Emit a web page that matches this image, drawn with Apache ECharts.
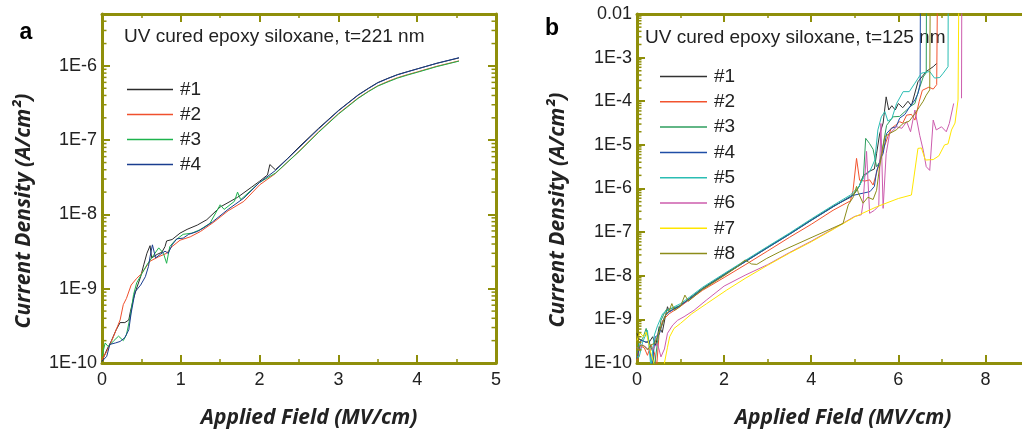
<!DOCTYPE html>
<html><head><meta charset="utf-8">
<script src="https://cdn.jsdelivr.net/npm/echarts@6.0.0/dist/echarts.min.js"></script>
<style>html,body{margin:0;padding:0;background:#fff}#c{width:1022px;height:433px}</style>
</head><body><div id="c"></div>
<script>
// ---------- DATA (Applied Field MV/cm, Current Density A/cm2) ----------
const namesA = ['#1','#2','#3','#4'];
const namesB = ['#1','#2','#3','#4','#5','#6','#7','#8'];
const xTicksA = [0,1,2,3,4,5];
const xTicksB = [0,2,4,6,8];

const a1 = [[0,1.05e-10],[0.06,1.5e-10],[0.12,2.0e-10],[0.18,2.8e-10],[0.23,3.5e-10],[0.29,3.5e-10],[0.34,3.8e-10],[0.36,4.9e-10],[0.40,7.4e-10],[0.44,1.02e-9],[0.49,1.45e-9],[0.53,2.1e-9],[0.57,3.0e-9],[0.61,3.8e-9],[0.63,2.6e-9],[0.70,2.9e-9],[0.76,3.1e-9],[0.80,3.7e-9],[0.82,4.4e-9],[0.89,4.6e-9],[0.99,5.6e-9],[1.08,6.3e-9],[1.21,7.2e-9],[1.33,8.5e-9],[1.5,1.26e-8],[1.72,1.7e-8],[1.9,2.34e-8],[2.0,2.8e-8],[2.1,3.4e-8],[2.13,4.7e-8],[2.2,4.0e-8],[2.35,5.6e-8],[2.5,8.1e-8],[2.75,1.45e-7],[3.0,2.51e-7],[3.25,4.07e-7],[3.38,5.0e-7],[3.5,5.97e-7],[3.63,6.82e-7],[3.75,7.64e-7],[3.88,8.39e-7],[4.0,9.12e-7],[4.25,1.086e-6],[4.53,1.28e-6]];
const a2 = [[0,1.1e-10],[0.06,1.43e-10],[0.12,1.95e-10],[0.18,2.8e-10],[0.23,3.8e-10],[0.27,6.1e-10],[0.31,7.4e-10],[0.37,1.12e-9],[0.44,1.38e-9],[0.49,1.55e-9],[0.55,1.9e-9],[0.61,2.35e-9],[0.72,2.7e-9],[0.82,3.0e-9],[0.89,3.7e-9],[0.99,4.5e-9],[1.12,5.0e-9],[1.25,5.9e-9],[1.42,7.9e-9],[1.6,1.12e-8],[1.8,1.5e-8],[2.0,2.5e-8],[2.2,3.55e-8],[2.5,7.1e-8],[2.75,1.3e-7],[3.0,2.28e-7],[3.25,3.7e-7],[3.38,4.55e-7],[3.5,5.4e-7],[3.63,6.2e-7],[3.75,6.95e-7],[3.88,7.65e-7],[4.0,8.3e-7],[4.25,9.9e-7],[4.53,1.17e-6]];
const a3 = [[0,1.23e-10],[0.04,1.86e-10],[0.08,1.66e-10],[0.15,2.0e-10],[0.21,2.3e-10],[0.27,2.0e-10],[0.31,2.4e-10],[0.36,4.3e-10],[0.40,8.3e-10],[0.44,1.2e-9],[0.51,1.62e-9],[0.57,2.1e-9],[0.63,2.6e-9],[0.72,3.55e-9],[0.78,3.0e-9],[0.82,2.2e-9],[0.86,3.7e-9],[0.93,4.5e-9],[1.03,5.4e-9],[1.14,5.6e-9],[1.24,6.2e-9],[1.37,7.6e-9],[1.5,1.35e-8],[1.55,1.17e-8],[1.68,1.5e-8],[1.72,2.0e-8],[1.76,1.58e-8],[2.0,2.7e-8],[2.2,3.6e-8],[2.5,7.0e-8],[2.75,1.28e-7],[3.0,2.24e-7],[3.25,3.65e-7],[3.38,4.5e-7],[3.5,5.35e-7],[3.63,6.1e-7],[3.75,6.85e-7],[3.88,7.55e-7],[4.0,8.2e-7],[4.25,9.8e-7],[4.53,1.16e-6]];
const a4 = [[0,1.05e-10],[0.06,1.23e-10],[0.10,1.78e-10],[0.17,1.86e-10],[0.23,1.95e-10],[0.29,2.2e-10],[0.34,2.8e-10],[0.37,4.7e-10],[0.42,9.1e-10],[0.49,1.12e-9],[0.55,1.45e-9],[0.59,2.0e-9],[0.61,2.7e-9],[0.64,3.9e-9],[0.68,2.6e-9],[0.74,2.9e-9],[0.80,3.2e-9],[0.84,3.0e-9],[0.89,3.9e-9],[0.95,4.7e-9],[1.03,4.8e-9],[1.10,5.4e-9],[1.21,5.9e-9],[1.29,6.6e-9],[1.40,7.9e-9],[1.6,1.17e-8],[1.8,1.66e-8],[2.0,2.7e-8],[2.2,3.9e-8],[2.5,7.9e-8],[2.75,1.42e-7],[3.0,2.48e-7],[3.25,4.03e-7],[3.38,4.95e-7],[3.5,5.92e-7],[3.63,6.78e-7],[3.75,7.6e-7],[3.88,8.35e-7],[4.0,9.1e-7],[4.25,1.085e-6],[4.53,1.29e-6]];

const b1 = [[0,4.8e-10],[0.05,3.5e-10],[0.13,3.3e-10],[0.2,3.0e-10],[0.28,3.0e-10],[0.36,4.0e-10],[0.43,2.5e-10],[0.51,6.8e-10],[0.58,5.0e-10],[0.66,1.3e-9],[0.70,1.95e-9],[0.74,1.5e-9],[0.82,1.7e-9],[0.97,2.0e-9],[1.2,3.0e-9],[1.5,5.1e-9],[2.0,1.07e-8],[2.5,2.2e-8],[3.0,4.5e-8],[3.5,9.1e-8],[4.0,1.9e-7],[4.5,3.9e-7],[4.9,6.3e-7],[5.0,7.9e-7],[5.1,1.12e-6],[5.2,2.0e-6],[5.34,2.5e-6],[5.45,2.8e-6],[5.5,6.3e-6],[5.57,1.78e-5],[5.65,3.16e-5],[5.72,1.26e-4],[5.78,6.3e-5],[5.85,7.9e-5],[5.93,6.3e-5],[6.0,8.9e-5],[6.1,7.1e-5],[6.22,1.0e-4],[6.3,7.9e-5],[6.45,2.8e-4],[6.64,4.8e-4],[6.80,6.2e-4],[6.88,7.4e-4]];
const b2 = [[0,1.15e-10],[0.07,2.5e-10],[0.17,2.2e-10],[0.24,1.5e-10],[0.32,2.6e-10],[0.40,1.7e-10],[0.45,8e-11],[0.51,5.1e-10],[0.59,9.5e-10],[0.74,1.35e-9],[0.97,1.9e-9],[1.2,2.8e-9],[1.5,4.6e-9],[2.0,9.1e-9],[2.5,1.82e-8],[3.0,3.7e-8],[3.5,7.6e-8],[4.0,1.51e-7],[4.5,3.16e-7],[4.9,5.2e-7],[4.96,9.1e-7],[5.04,4.9e-6],[5.11,1.55e-6],[5.23,1.48e-6],[5.34,1.58e-6],[5.42,1.2e-6],[5.53,2.9e-6],[5.65,7.6e-6],[5.76,1.55e-5],[5.84,2.4e-5],[5.93,2.8e-5],[6.03,3.4e-5],[6.1,3.16e-5],[6.19,4.8e-5],[6.3,5.0e-5],[6.38,3.7e-5],[6.48,1.0e-4],[6.55,1.78e-4],[6.7,2.1e-4],[6.8,1.9e-4],[6.88,2.4e-4],[6.91,1]];
const b3 = [[0,1.8e-10],[0.05,3.0e-10],[0.13,3.6e-10],[0.21,6.2e-10],[0.28,3.0e-10],[0.36,1.8e-10],[0.40,8e-11],[0.47,3.0e-10],[0.55,9.5e-10],[0.66,1.62e-9],[0.82,1.8e-9],[1.0,2.1e-9],[1.2,3.0e-9],[1.5,5.0e-9],[2.0,1.05e-8],[2.5,2.14e-8],[3.0,4.4e-8],[3.5,8.9e-8],[4.0,1.86e-7],[4.5,3.8e-7],[4.9,6.6e-7],[5.0,7.9e-7],[5.1,1.12e-6],[5.2,2.0e-6],[5.25,1.41e-5],[5.34,1.07e-5],[5.42,7.9e-6],[5.50,3.16e-6],[5.57,4.0e-6],[5.65,1.0e-5],[5.73,2.8e-5],[5.88,4.4e-5],[6.03,4.5e-5],[6.19,6.3e-5],[6.3,7.9e-5],[6.38,8.9e-5],[6.45,1.58e-4],[6.57,3.6e-4],[6.64,4.5e-4],[6.65,1]];
const b4 = [[0,1.26e-10],[0.09,3.3e-10],[0.21,3.0e-10],[0.28,3.3e-10],[0.34,8e-11],[0.42,4.0e-10],[0.51,4.5e-10],[0.63,1.15e-9],[0.74,1.48e-9],[0.97,2.0e-9],[1.2,2.9e-9],[1.5,4.9e-9],[2.0,1.04e-8],[2.5,2.14e-8],[3.0,4.4e-8],[3.5,8.9e-8],[4.0,1.86e-7],[4.5,3.8e-7],[4.9,6.5e-7],[5.0,7.1e-7],[5.35,8.5e-7],[5.45,1.12e-6],[5.5,2.5e-6],[5.6,5.0e-6],[5.65,6.3e-6],[5.73,1.82e-5],[5.84,2.4e-5],[5.95,2.6e-5],[6.03,4.1e-5],[6.15,5.0e-5],[6.26,7.4e-5],[6.38,1.07e-4],[6.45,1.5e-4],[6.50,2.5e-4],[6.51,1]];
const b5 = [[0,1.38e-10],[0.05,1.38e-10],[0.13,3.0e-10],[0.24,5.6e-10],[0.32,8e-11],[0.40,4.4e-10],[0.47,7.1e-10],[0.59,1.35e-9],[0.74,1.7e-9],[1.0,2.3e-9],[1.2,3.2e-9],[1.5,5.4e-9],[2.0,1.12e-8],[2.5,2.3e-8],[3.0,4.7e-8],[3.5,9.5e-8],[4.0,2.0e-7],[4.5,4.1e-7],[4.9,7.1e-7],[5.0,8.9e-7],[5.1,1.12e-6],[5.23,2.0e-6],[5.34,2.4e-6],[5.46,4.5e-6],[5.53,2.2e-5],[5.61,4.4e-5],[5.69,5.8e-5],[5.76,3.5e-5],[5.85,4.0e-5],[5.96,8.9e-5],[6.11,1.66e-4],[6.25,1.66e-4],[6.38,2.6e-4],[6.53,4.4e-4],[6.72,4.8e-4],[6.83,3.4e-4],[6.95,3.5e-4],[7.03,4.4e-4],[7.14,6.2e-4],[7.15,1]];
const b6 = [[0,2.3e-10],[0.05,1.95e-10],[0.13,2.6e-10],[0.21,2.3e-10],[0.28,1.95e-10],[0.36,2.1e-10],[0.47,2.8e-10],[0.55,1.38e-10],[0.63,2.1e-10],[0.70,4.8e-10],[0.82,7.4e-10],[0.93,9.5e-10],[1.08,1.15e-9],[1.31,1.62e-9],[1.6,2.8e-9],[2.0,5.8e-9],[2.5,1.05e-8],[3.0,1.8e-8],[3.5,3.4e-8],[4.0,6.2e-8],[4.5,1.18e-7],[5.0,2.3e-7],[5.15,2.5e-7],[5.19,4.6e-7],[5.27,7.1e-6],[5.34,2.7e-7],[5.45,3.16e-7],[5.55,4.0e-7],[5.60,3.1e-5],[5.65,3.5e-7],[5.72,6.3e-6],[5.80,1.82e-5],[5.96,2.6e-5],[6.08,2.4e-5],[6.19,3.4e-5],[6.28,2.0e-5],[6.38,6.3e-5],[6.49,1.66e-5],[6.57,7.6e-6],[6.64,3.16e-6],[6.72,2.6e-6],[6.80,3.7e-5],[6.87,2.2e-5],[6.99,2.6e-5],[7.10,2.0e-5],[7.17,3.1e-5],[7.27,8.9e-5],[7.36,'-'],[7.45,1.17e-4],[7.46,1]];
const b7 = [[0,3.3e-10],[0.07,4.9e-10],[0.15,4.0e-10],[0.21,5.1e-10],[0.27,2.8e-10],[0.32,1.66e-10],[0.40,9e-11],[0.5,5e-11],[0.62,5e-11],[0.63,1.0e-10],[0.70,2.3e-10],[0.75,4.0e-10],[0.85,6.2e-10],[1.0,8.1e-10],[1.26,1.35e-9],[1.6,2.3e-9],[2.06,4.7e-9],[2.5,8.9e-9],[3.0,1.74e-8],[3.5,3.3e-8],[4.0,6.0e-8],[4.5,1.15e-7],[5.0,2.24e-7],[5.5,3.8e-7],[6.0,5.9e-7],[6.30,7.1e-7],[6.33,7.4e-7],[6.45,8.3e-6],[6.53,8.5e-6],[6.62,4.5e-6],[6.80,4.6e-6],[6.93,5.6e-6],[7.06,1.0e-5],[7.14,1.05e-5],[7.22,2.2e-5],[7.30,3.16e-5],[7.37,1.07e-4],[7.40,1]];
const b8 = [[0,2.0e-10],[0.09,2.6e-10],[0.17,2.4e-10],[0.24,2.0e-10],[0.32,2.6e-10],[0.40,2.8e-10],[0.47,4.0e-10],[0.55,6.5e-10],[0.66,1.3e-9],[0.74,1.6e-9],[0.80,2.3e-9],[0.86,1.6e-9],[1.0,2.0e-9],[1.10,3.6e-9],[1.18,2.6e-9],[1.5,4.8e-9],[2.0,1.0e-8],[2.3,1.6e-8],[2.48,2.3e-8],[2.63,1.86e-8],[2.75,1.82e-8],[2.98,2.5e-8],[3.28,3.55e-8],[4.04,7.8e-8],[4.73,1.58e-7],[4.85,4.2e-7],[4.97,6.5e-7],[5.04,1.12e-6],[5.08,8.0e-7],[5.19,4.6e-7],[5.3,6.3e-7],[5.42,5.6e-7],[5.50,9.1e-7],[5.57,3.16e-6],[5.69,1.55e-5],[5.80,1.82e-5],[5.95,2.2e-5],[6.11,3.1e-5],[6.25,3.5e-5],[6.38,5.2e-5],[6.49,7.6e-5],[6.57,1.0e-4],[6.64,1.38e-4],[6.72,1.82e-4],[6.74,1]];

const seriesA = [a1,a2,a3,a4];
const seriesB = [b1,b2,b3,b4,b5,b6,b7,b8];
const colorsA = ['#2b2b2b','#f0502d','#1db34d','#1a3d8f'];
const colorsB = ['#333333','#f2532e','#2e9e5e','#1f4ea6','#2bbdb3','#cc5cad','#ffe600','#8c8c1a'];

// ---------- STYLE ----------
const OLIVE = '#8f8f0a';
const TXT = '#222';
const SANS = '"Liberation Sans", Arial, sans-serif';
const TITLEF = '"Open Sans", sans-serif';

// minor tick values for log axes (2..9 per decade)
function minorVals(minE, maxV){
  const out=[];
  for(let e=minE;e<=0;e++){for(let m=2;m<=9;m++){const v=m*Math.pow(10,e); if(v<maxV*1.0001) out.push([0,v]);}}
  return out;
}
function fmtA(v){const e=Math.log10(v);const r=Math.round(e);if(Math.abs(e-r)>1e-6)return '';return '1E'+r;}
function fmtB(v){const e=Math.log10(v);const r=Math.round(e);if(Math.abs(e-r)>1e-6)return '';if(r===-2)return '0.01';return '1E'+r;}

function xAx(grid,max,interval,pos,showLabel){
  return {gridIndex:grid,type:'value',min:0,max:max,interval:interval,position:pos,
    axisLine:{show:true,onZero:false,lineStyle:{color:OLIVE,width:3}},
    axisTick:{show:true,inside:true,length:8,lineStyle:{color:OLIVE,width:2}},
    minorTick:{show:true,splitNumber:2,length:4,lineStyle:{color:OLIVE,width:1.5}},
    splitLine:{show:false},minorSplitLine:{show:false},
    axisLabel:{show:showLabel,margin:8,fontSize:18,fontFamily:SANS,color:TXT,showMaxLabel:true}};
}
function yAx(grid,max,pos,showLabel,fmt){
  return {gridIndex:grid,type:'log',logBase:10,min:1e-10,max:max,position:pos,
    axisLine:{show:true,onZero:false,lineStyle:{color:OLIVE,width:3}},
    axisTick:{show:true,inside:true,length:8,lineStyle:{color:OLIVE,width:2}},
    minorTick:{show:false},splitLine:{show:false},
    axisLabel:{show:showLabel,margin:5,fontSize:18,fontFamily:SANS,color:TXT,formatter:fmt}};
}
function minorSeries(xi,yi,data){
  return {type:'custom',xAxisIndex:xi,yAxisIndex:yi,silent:true,clip:false,z:5,data:data,
    encode:{x:0,y:1},
    renderItem:function(params,api){
      const y=api.coord([0,api.value(1)])[1];
      const cs=params.coordSys;
      const st={stroke:OLIVE,lineWidth:1.5};
      return {type:'group',children:[
        {type:'line',shape:{x1:cs.x,y1:y,x2:cs.x+4.5,y2:y},style:st},
        {type:'line',shape:{x1:cs.x+cs.width,y1:y,x2:cs.x+cs.width-4.5,y2:y},style:st}
      ]};
    }};
}

const series=[];
seriesA.forEach((d,i)=>series.push({name:'a'+namesA[i],type:'line',xAxisIndex:0,yAxisIndex:0,data:d,
  symbol:'none',clip:true,lineStyle:{width:1,color:colorsA[i]},itemStyle:{color:colorsA[i]}}));
seriesB.forEach((d,i)=>series.push({name:'b'+namesB[i],type:'line',xAxisIndex:2,yAxisIndex:2,data:d,
  symbol:'none',clip:true,connectNulls:false,lineStyle:{width:1,color:colorsB[i]},itemStyle:{color:colorsB[i]}}));
series.push(minorSeries(0,0,minorVals(-10,5e-6)));
series.push(minorSeries(2,2,minorVals(-10,1e-2)));

const legendText={fontSize:19,fontFamily:SANS,color:TXT,padding:[0,0,0,2]};
const option={
  animation:false,
  backgroundColor:'#fff',
  grid:[{left:102,right:526,top:14,bottom:70,outerBoundsMode:'none',containLabel:false},
        {left:637,right:-50.6,top:14,bottom:70,outerBoundsMode:'none',containLabel:false}],
  xAxis:[xAx(0,5,1,'bottom',true),xAx(0,5,1,'top',false),xAx(1,10,2,'bottom',true),xAx(1,10,2,'top',false)],
  yAxis:[yAx(0,5e-6,'left',true,fmtA),yAx(0,5e-6,'right',false,fmtA),yAx(1,1e-2,'left',true,fmtB),yAx(1,1e-2,'right',false,fmtB)],
  legend:[
    {orient:'vertical',left:122,top:75,icon:'rect',itemWidth:46,itemHeight:1.5,itemGap:6,data:namesA.map(n=>'a'+n),
     formatter:n=>n.slice(1),textStyle:legendText,selectedMode:false},
    {orient:'vertical',left:655,top:62,icon:'rect',itemWidth:47,itemHeight:1.5,itemGap:6.3,data:namesB.map(n=>'b'+n),
     formatter:n=>n.slice(1),textStyle:legendText,selectedMode:false}
  ],
  graphic:[
    {type:'text',x:26,y:33,style:{text:'a',fontSize:23,fontWeight:'bold',fontFamily:SANS,fill:'#000',align:'center',verticalAlign:'middle'}},
    {type:'text',x:552,y:29,style:{text:'b',fontSize:23,fontWeight:'bold',fontFamily:SANS,fill:'#000',align:'center',verticalAlign:'middle'}},
    {type:'text',x:124,y:37,style:{text:'UV cured epoxy siloxane, t=221 nm',fontSize:19,fontFamily:SANS,fill:TXT,align:'left',verticalAlign:'middle'}},
    {type:'text',x:645,y:38,style:{text:'UV cured epoxy siloxane, t=125 nm',fontSize:19,fontFamily:SANS,fill:TXT,align:'left',verticalAlign:'middle'}},
    {type:'text',x:309,y:418,style:{text:'Applied Field (MV/cm)',fontSize:21,fontWeight:'bold',fontStyle:'italic',fontFamily:TITLEF,fill:TXT,align:'center',verticalAlign:'middle'}},
    {type:'text',x:843,y:418,style:{text:'Applied Field (MV/cm)',fontSize:21,fontWeight:'bold',fontStyle:'italic',fontFamily:TITLEF,fill:TXT,align:'center',verticalAlign:'middle'}},
    {type:'text',x:24,y:211,rotation:Math.PI/2,style:{text:'Current Density (A/cm²)',fontSize:21,fontWeight:'bold',fontStyle:'italic',fontFamily:TITLEF,fill:TXT,align:'center',verticalAlign:'middle'}},
    {type:'text',x:558,y:210,rotation:Math.PI/2,style:{text:'Current Density (A/cm²)',fontSize:21,fontWeight:'bold',fontStyle:'italic',fontFamily:TITLEF,fill:TXT,align:'center',verticalAlign:'middle'}}
  ],
  series:series
};
const chart=echarts.init(document.getElementById('c'),null,{renderer:'canvas'});
chart.setOption(option);
</script></body></html>
